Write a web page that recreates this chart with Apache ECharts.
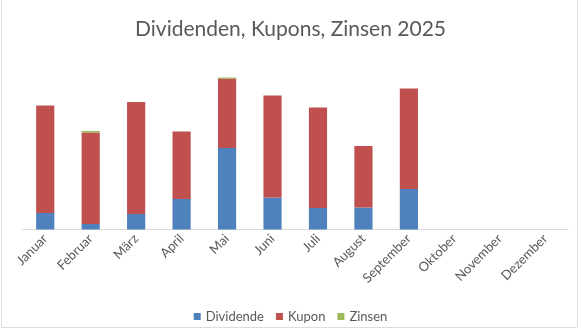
<!DOCTYPE html>
<html>
<head>
<meta charset="utf-8">
<script src="https://cdn.jsdelivr.net/npm/echarts@6/dist/echarts.min.js"></script>
<style>html,body{margin:0;padding:0;background:#fff;}#c{width:581px;height:329px;}</style>
</head>
<body>
<div id="c"></div>
<script>
const months = ['Januar','Februar','März','April','Mai','Juni','Juli','August','September','Oktober','November','Dezember'];
const dividende = [33, 11, 31, 61, 163, 64, 43, 44, 81, null, null, null];
const kupon = [215, 183, 224, 135, 139, 204, 201, 123, 201, null, null, null];
const zinsen = [0, 3, 0, 0, 2, 0, 0, 0, 0, null, null, null];
const yMax = 339;

const font = 'Lato';
const chart = echarts.init(document.getElementById('c'), null, {renderer: 'canvas'});
chart.setOption({
  animation: false,
  backgroundColor: '#ffffff',
  graphic: [{
    type: 'rect', silent: true, z: -1,
    shape: {x: 1.5, y: -5, width: 576, height: 332.5},
    style: {fill: 'none', stroke: '#dedede', lineWidth: 1}
  }],
  title: {
    text: 'Dividenden, Kupons, Zinsen 2025',
    left: 'center',
    top: 14,
    textStyle: {fontFamily: font, fontSize: 21, fontWeight: 'normal', color: '#595959'}
  },
  legend: {
    bottom: 1,
    left: 'center',
    itemWidth: 7,
    itemHeight: 7,
    itemGap: 12,
    icon: 'rect',
    textStyle: {fontFamily: font, fontSize: 13, color: '#595959'},
    data: ['Dividende','Kupon','Zinsen']
  },
  grid: {left: 22.5, right: 13, top: 60, bottom: 99.5, outerBoundsMode: 'none'},
  xAxis: {
    type: 'category',
    data: months,
    axisLine: {lineStyle: {color: '#d9d9d9', width: 1}},
    axisTick: {show: false},
    axisLabel: {rotate: 45, interval: 0, margin: 7, fontFamily: font, fontSize: 13, color: '#595959'}
  },
  yAxis: {
    type: 'value', min: 0, max: yMax, show: false,
    splitLine: {show: false}
  },
  series: [
    {name: 'Dividende', type: 'bar', stack: 's', data: dividende, barWidth: '40%', itemStyle: {color: '#4f81bd'}},
    {name: 'Kupon', type: 'bar', stack: 's', data: kupon, barWidth: '40%', itemStyle: {color: '#c0504d'}},
    {name: 'Zinsen', type: 'bar', stack: 's', data: zinsen, barWidth: '40%', itemStyle: {color: '#9bbb59'}}
  ]
});
</script>
</body>
</html>
